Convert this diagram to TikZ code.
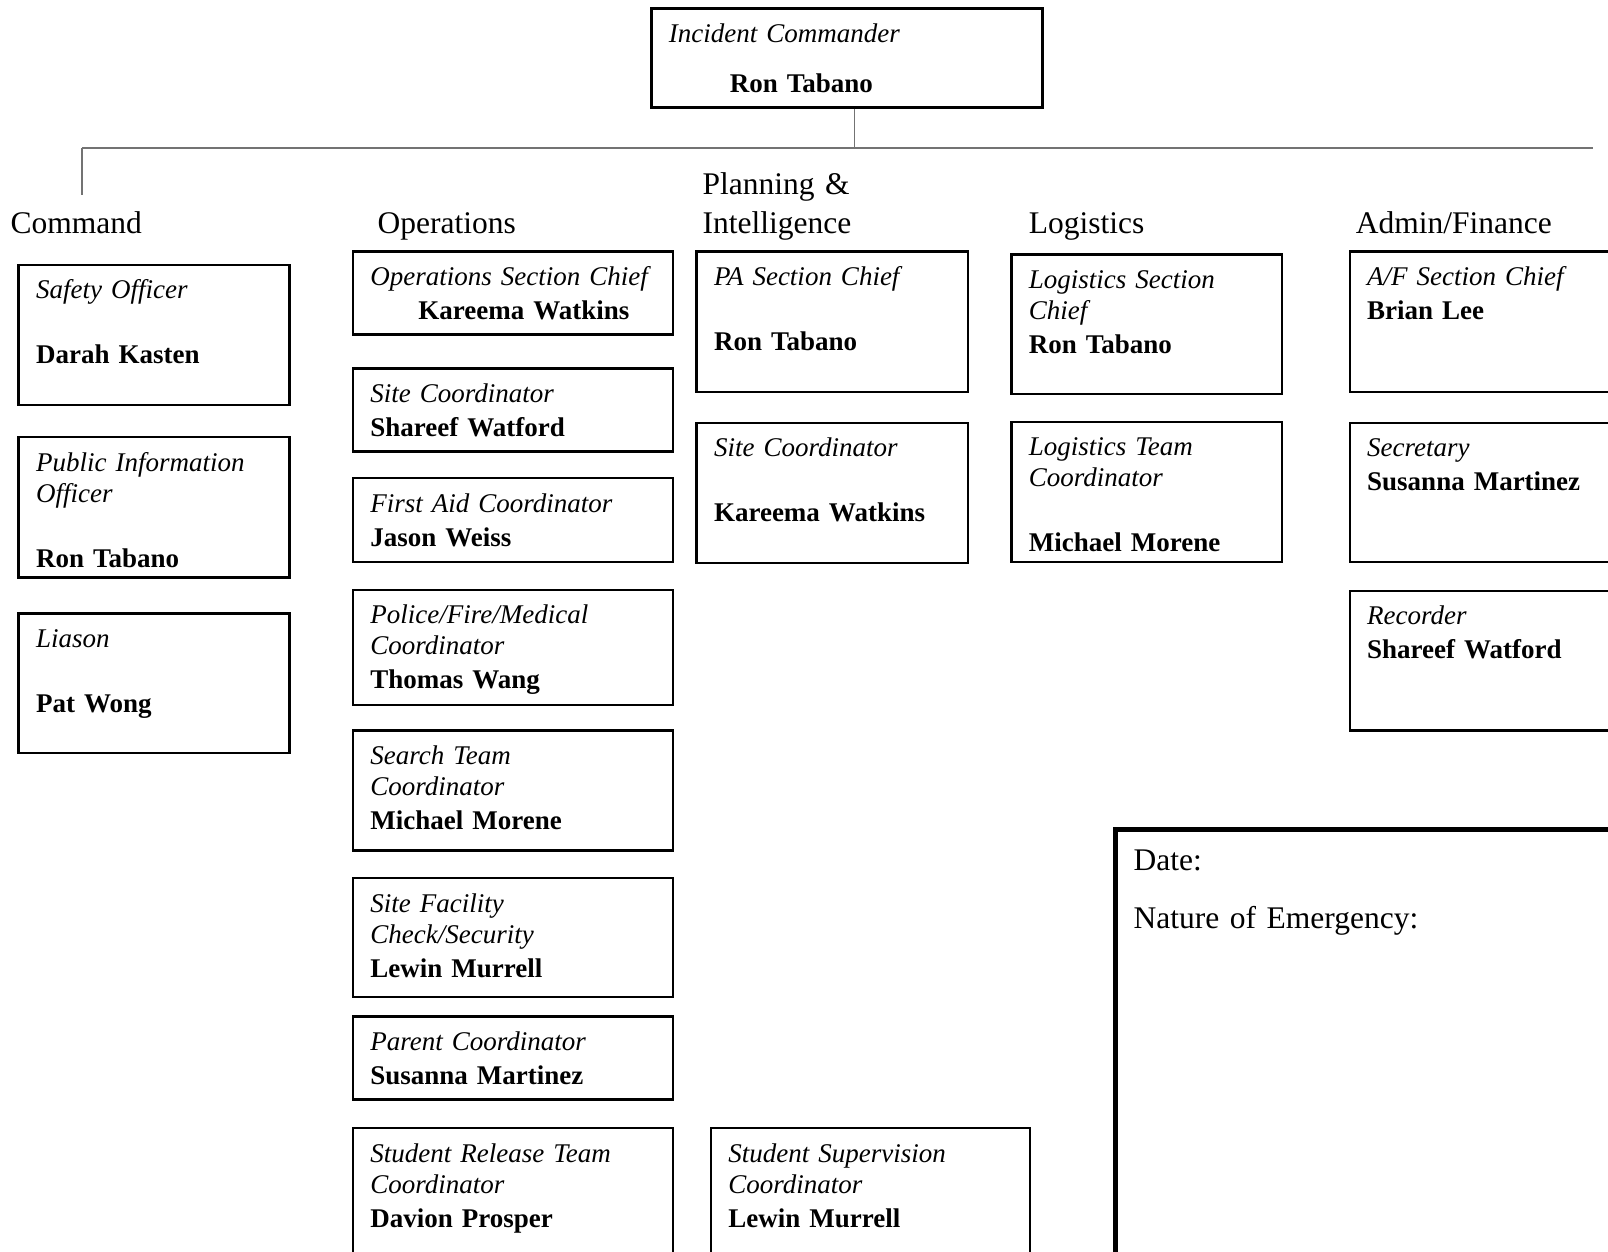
\documentclass[tikz,border=0pt]{standalone}
\usepackage{fontspec}
\setmainfont{Liberation Serif}
\usepackage{tikz}

\begin{document}
\begin{tikzpicture}[x=1pt,y=-1pt,
   post/.style={draw,line width=2.4pt,anchor=north west,inner xsep=17.5pt,inner ysep=0pt,
      align=left,font=\fontsize{27pt}{31pt}\selectfont,text height=34pt,text depth=#1},
   cmd/.style={post=#1,text width=235.8pt},
   ops/.style={post=#1,text width=285pt},
   plan/.style={post=#1,text width=236.7pt},
   logi/.style={post=#1,text width=235.8pt},
   adm/.style={post=#1,text width=256.5pt},
   head/.style={anchor=base west,inner sep=0pt,align=left,font=\fontsize{31.5pt}{39pt}\selectfont},
   link/.style={draw=black!55,line width=1.5pt}]
\clip (0,0) rectangle (1608,1251);
\node[post=65pt,text width=356pt,line width=2.8pt] (ic) at (650,7)
   {\textit{Incident Commander}\\[19pt]\hspace*{61pt}\textbf{Ron Tabano}};

\node[head] (command) at (10.3,233.8) {Command};
\node[head] (operations) at (377.4,233.8) {Operations};
\node[head,text width=240pt] (planning) at (702.5,194.8) {Planning \&\\Intelligence};
\node[head] (logistics) at (1028.6,233.8) {Logistics};
\node[head] (admin) at (1355.7,233.8) {Admin/Finance};

\node[cmd=106.4pt] (safety) at (17.4,263.6) {\textit{Safety Officer}\\[34pt]\textbf{Darah Kasten}};
\node[cmd=106.5pt] (pio) at (17.4,435.8) {\textit{Public Information}\\\textit{Officer}\\[34pt]\textbf{Ron Tabano}};
\node[cmd=105.5pt] (liason) at (17.4,612.2) {\textit{Liason}\\[34pt]\textbf{Pat Wong}};

\node[ops=49.1pt] (opschief) at (351.7,250.2) {\textit{Operations Section Chief}\\[3pt]\hspace*{48pt}\textbf{Kareema Watkins}};
\node[ops=49.1pt] (opssite) at (351.7,367.1) {\textit{Site Coordinator}\\[3pt]\textbf{Shareef Watford}};
\node[ops=50.1pt] (firstaid) at (351.7,476.9) {\textit{First Aid Coordinator}\\[3pt]\textbf{Jason Weiss}};
\node[ops=80.9pt] (police) at (351.7,588.6) {\textit{Police/Fire/Medical}\\\textit{Coordinator}\\[3pt]\textbf{Thomas Wang}};
\node[ops=86pt] (search) at (351.7,729.1) {\textit{Search Team}\\\textit{Coordinator}\\[3pt]\textbf{Michael Morene}};
\node[ops=85pt] (facility) at (351.7,876.8) {\textit{Site Facility}\\\textit{Check/Security}\\[3pt]\textbf{Lewin Murrell}};
\node[ops=49.1pt] (parent) at (351.7,1015.2) {\textit{Parent Coordinator}\\[3pt]\textbf{Susanna Martinez}};
\node[ops=119pt] (release) at (351.7,1127) {\textit{Student Release Team}\\\textit{Coordinator}\\[3pt]\textbf{Davion Prosper}};

\node[plan=106.5pt] (pachief) at (695.3,250.2) {\textit{PA Section Chief}\\[34pt]\textbf{Ron Tabano}};
\node[plan=106.5pt] (plansite) at (695.3,421.5) {\textit{Site Coordinator}\\[34pt]\textbf{Kareema Watkins}};
\node[post=119pt,text width=284pt] (supervision) at (709.6,1127) {\textit{Student Supervision}\\\textit{Coordinator}\\[3pt]\textbf{Lewin Murrell}};

\node[logi=105.5pt] (logchief) at (1010.1,253.3) {\textit{Logistics Section}\\\textit{Chief}\\[3pt]\textbf{Ron Tabano}};
\node[logi=106.5pt] (logteam) at (1010.1,420.5) {\textit{Logistics Team}\\\textit{Coordinator}\\[34pt]\textbf{Michael Morene}};

\node[adm=106.5pt] (afchief) at (1348.5,250.2) {\textit{A/F Section Chief}\\[3pt]\textbf{Brian Lee}};
\node[adm=105.5pt] (secretary) at (1348.5,421.5) {\textit{Secretary}\\[3pt]\textbf{Susanna Martinez}};
\node[adm=105.4pt] (recorder) at (1348.5,589.7) {\textit{Recorder}\\[3pt]\textbf{Shareef Watford}};

\node[draw,line width=5pt,anchor=north west,inner xsep=18.5pt,inner ysep=0pt,align=left,
   font=\fontsize{31.5pt}{36pt}\selectfont,text width=490pt,text height=41pt,text depth=412pt]
   (info) at (1112.7,826.6) {Date:\\[22pt]Nature of Emergency:};

\coordinate (bus west) at (82,148);
\coordinate (bus east) at (1593,148);
\coordinate (cmd drop) at (82,195);
\draw[link] ([xshift=7.5pt]ic.south) -- ([xshift=7.5pt]ic.south |- bus west);
\draw[link] (bus west) -- (bus east);
\draw[link] (bus west) -- (cmd drop);
\end{tikzpicture}
\end{document}
